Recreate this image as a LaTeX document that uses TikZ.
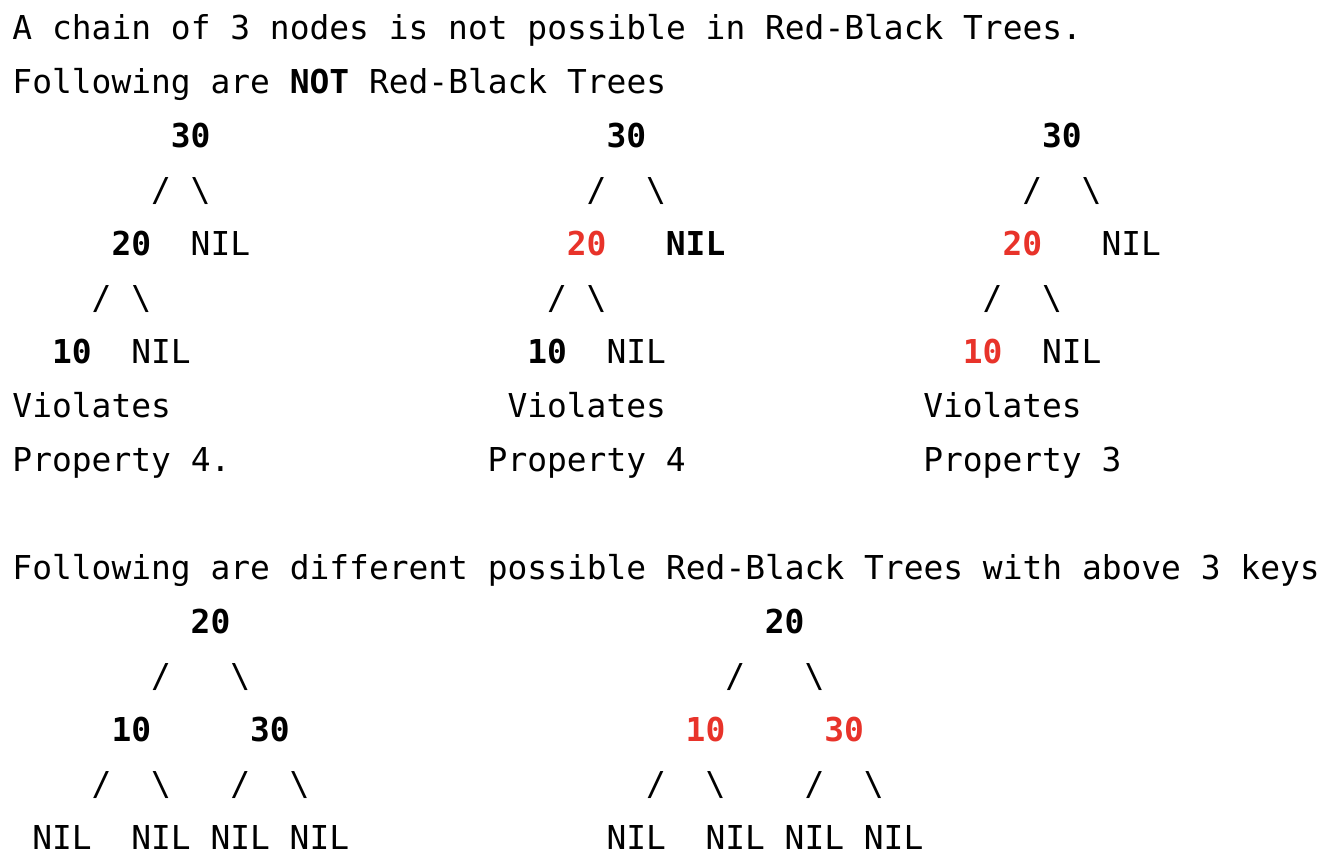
\documentclass[tikz,border=0pt]{standalone}
\usepackage{fontspec}
\setmainfont{DejaVu Sans Mono}
\definecolor{rbred}{RGB}{232,51,42}
\tikzset{
  txt/.style={anchor=base west, inner sep=0pt, outer sep=0pt, font=\fontsize{32.9}{54}\selectfont},
  key/.style={txt, font=\fontsize{32.9}{54}\selectfont\bfseries},
  redkey/.style={key, text=rbred}
}
\begin{document}
\begin{tikzpicture}
\useasboundingbox (0pt,0pt) rectangle (1342pt,-866pt);
\begin{scope}[shift={(12.5pt,-39.5pt)}, x=19.8pt, y=-54pt]
% header
\node[txt] (h1) at (0,0) {A chain of 3 nodes is not possible in Red-Black Trees.};
\node[txt] (h2) at (0,1) {Following are \textbf{NOT} Red-Black Trees};
% tree A
\node[key] (a30) at (8,2) {30};
\node[txt] (a30l) at (7,3) {/};
\node[txt] (a30r) at (9,3) {\textbackslash};
\node[key] (a20) at (5,4) {20};
\node[txt] (anil1) at (9,4) {NIL};
\node[txt] (a20l) at (4,5) {/};
\node[txt] (a20r) at (6,5) {\textbackslash};
\node[key] (a10) at (2,6) {10};
\node[txt] (anil2) at (6,6) {NIL};
\node[txt] (av) at (0,7) {Violates};
\node[txt] (ap) at (0,8) {Property 4.};
% tree B
\node[key] (b30) at (30,2) {30};
\node[txt] (b30l) at (29,3) {/};
\node[txt] (b30r) at (32,3) {\textbackslash};
\node[redkey] (b20) at (28,4) {20};
\node[key] (bnil1) at (33,4) {NIL};
\node[txt] (b20l) at (27,5) {/};
\node[txt] (b20r) at (29,5) {\textbackslash};
\node[key] (b10) at (26,6) {10};
\node[txt] (bnil2) at (30,6) {NIL};
\node[txt] (bv) at (25,7) {Violates};
\node[txt] (bp) at (24,8) {Property 4};
% tree C
\node[key] (c30) at (52,2) {30};
\node[txt] (c30l) at (51,3) {/};
\node[txt] (c30r) at (54,3) {\textbackslash};
\node[redkey] (c20) at (50,4) {20};
\node[txt] (cnil1) at (55,4) {NIL};
\node[txt] (c20l) at (49,5) {/};
\node[txt] (c20r) at (52,5) {\textbackslash};
\node[redkey] (c10) at (48,6) {10};
\node[txt] (cnil2) at (52,6) {NIL};
\node[txt] (cv) at (46,7) {Violates};
\node[txt] (cp) at (46,8) {Property 3};
% second header
\node[txt] (h3) at (0,10) {Following are different possible Red-Black Trees with above 3 keys};
% tree D
\node[key] (d20) at (9,11) {20};
\node[txt] (d20l) at (7,12) {/};
\node[txt] (d20r) at (11,12) {\textbackslash};
\node[key] (d10) at (5,13) {10};
\node[key] (d30) at (12,13) {30};
\node[txt] (d10l) at (4,14) {/};
\node[txt] (d10r) at (7,14) {\textbackslash};
\node[txt] (d30l) at (11,14) {/};
\node[txt] (d30r) at (14,14) {\textbackslash};
\node[txt] (dn1) at (1,15) {NIL};
\node[txt] (dn2) at (6,15) {NIL};
\node[txt] (dn3) at (10,15) {NIL};
\node[txt] (dn4) at (14,15) {NIL};
% tree E
\node[key] (e20) at (38,11) {20};
\node[txt] (e20l) at (36,12) {/};
\node[txt] (e20r) at (40,12) {\textbackslash};
\node[redkey] (e10) at (34,13) {10};
\node[redkey] (e30) at (41,13) {30};
\node[txt] (e10l) at (32,14) {/};
\node[txt] (e10r) at (35,14) {\textbackslash};
\node[txt] (e30l) at (40,14) {/};
\node[txt] (e30r) at (43,14) {\textbackslash};
\node[txt] (en1) at (30,15) {NIL};
\node[txt] (en2) at (35,15) {NIL};
\node[txt] (en3) at (39,15) {NIL};
\node[txt] (en4) at (43,15) {NIL};
\end{scope}
\end{tikzpicture}
\end{document}
